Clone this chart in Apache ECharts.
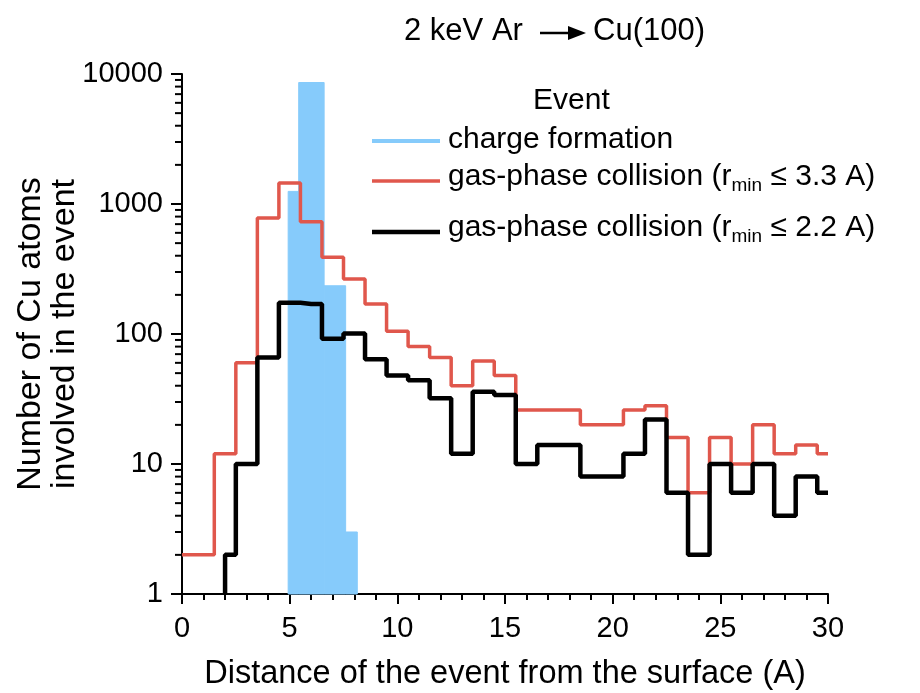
<!DOCTYPE html>
<html>
<head>
<meta charset="utf-8">
<script src="https://cdn.jsdelivr.net/npm/echarts@6/dist/echarts.min.js"></script>
<style>
  html, body { margin: 0; padding: 0; background: #fff; }
  #chart { width: 920px; height: 693px; }
</style>
</head>
<body>
<div id="chart"></div>
<script>
// Distance bins (A) for the two gas-phase collision histograms
const distanceR33 = [0,1,2,3,4,5,6,7,8,9,10,11,12,13,14,15,16,17,18,19,20,21,22,23,24,25,26,27,28,29,30];
const countsR33   = [2,2,12,60,780,1450,730,390,265,170,105,80,66,40,62,48,26,26,26,20,20,26,28,16,6,16,10,20,12,14,12];

const distanceR22 = [2,3,4,5,6,7,8,9,10,11,12,13,14,15,16,17,18,19,20,21,22,23,24,25,26,27,28,29,30];
const countsR22   = [2,10,66,174,170,92,101,64,48,44,32,12,36,34,10,14,14,8,8,12,22,6,2,10,6,10,4,8,6];

// Charge formation histogram: bin edges (from / to) and counts
const chargeFrom   = [4.93, 5.42, 6.6, 7.6];
const chargeTo     = [5.42, 6.6, 7.6, 8.14];
const chargeCounts = [1250, 8600, 235, 3];

// Axis ranges and tick labels
const xTicks = [0, 5, 10, 15, 20, 25, 30];
const yTicks = [1, 10, 100, 1000, 10000];

const FONT = '"Liberation Sans", Arial, sans-serif';
const RED = '#E0574C';
const BLUE = '#86CBFB';

// minor ticks of the log axis: 2..9 in every decade
const yMinor = [];
for (let d = 0; d < yTicks.length - 1; d++) {
  for (let k = 2; k <= 9; k++) yMinor.push(yTicks[d] * k);
}

const chart = echarts.init(document.getElementById('chart'), null, { renderer: 'canvas' });

const r33Data = distanceR33.map((x, i) => [x, countsR33[i]]);
// the r <= 2.2 A curve rises from the axis floor at its first bin
const r22Data = [[distanceR22[0], yTicks[0]]].concat(distanceR22.map((x, i) => [x, countsR22[i]]));
const chargeData = chargeCounts.map((c, i) => [chargeFrom[i], chargeTo[i], c]);

const subRich = {
  n: { fontSize: 30, fontFamily: FONT, lineHeight: 36, fill: '#000' },
  s: { fontSize: 19, fontFamily: FONT, lineHeight: 2, verticalAlign: 'bottom', fill: '#000' }
};

const option = {
  animation: false,
  backgroundColor: '#fff',
  textStyle: { fontFamily: FONT },
  grid: { left: 182, right: 92, top: 74, bottom: 99, containLabel: false, outerBoundsMode: 'none' },
  xAxis: {
    type: 'value',
    min: xTicks[0],
    max: xTicks[xTicks.length - 1],
    interval: 5,
    name: 'Distance of the event from the surface (A)',
    nameLocation: 'middle',
    nameGap: 64,
    nameMoveOverlap: false,
    nameTextStyle: { fontSize: 32.5, color: '#000', fontFamily: FONT },
    axisLine: { show: true, lineStyle: { color: '#000', width: 2 } },
    axisTick: { show: true, length: 10, lineStyle: { color: '#000', width: 2 } },
    minorTick: { show: true, splitNumber: 5, length: 6, lineStyle: { color: '#000', width: 2 } },
    splitLine: { show: false },
    minorSplitLine: { show: false },
    axisLabel: { fontSize: 29, color: '#000', margin: 20, fontFamily: FONT }
  },
  yAxis: {
    type: 'log',
    logBase: 10,
    min: yTicks[0],
    max: yTicks[yTicks.length - 1],
    name: 'Number of Cu atoms\ninvolved in the event',
    nameLocation: 'middle',
    nameGap: 100,
    nameMoveOverlap: false,
    nameTextStyle: { fontSize: 34, color: '#000', fontFamily: FONT, lineHeight: 34 },
    axisLine: { show: true, lineStyle: { color: '#000', width: 2 } },
    axisTick: { show: true, length: 11, lineStyle: { color: '#000', width: 2 } },
    splitLine: { show: false },
    axisLabel: {
      fontSize: 29, color: '#000', margin: 19, fontFamily: FONT,
      formatter: v => String(Math.round(v))
    }
  },
  series: [
    {
      name: 'charge formation',
      type: 'custom',
      data: chargeData,
      encode: { x: [0, 1], y: 2 },
      z: 1,
      renderItem: function (params, api) {
        const p1 = api.coord([api.value(0), api.value(2)]);
        const p2 = api.coord([api.value(1), yTicks[0]]);
        return {
          type: 'rect',
          shape: { x: p1[0], y: p1[1], width: p2[0] - p1[0], height: p2[1] - p1[1] },
          style: { fill: BLUE, stroke: BLUE, lineWidth: 1 }
        };
      }
    },
    {
      name: 'gas-phase collision (r_min <= 3.3 A)',
      type: 'line',
      step: 'middle',
      symbol: 'none',
      data: r33Data,
      z: 2,
      lineStyle: { color: RED, width: 3.5 }
    },
    {
      name: 'gas-phase collision (r_min <= 2.2 A)',
      type: 'line',
      step: 'middle',
      symbol: 'none',
      data: r22Data,
      z: 3,
      lineStyle: { color: '#000', width: 4.5 }
    },
    {
      name: 'yMinorTicks',
      type: 'custom',
      data: yMinor.map(v => [xTicks[0], v]),
      encode: { x: 0, y: 1 },
      z: 4,
      silent: true,
      clip: false,
      renderItem: function (params, api) {
        const p = api.coord([api.value(0), api.value(1)]);
        return {
          type: 'line',
          shape: { x1: p[0] - 7, y1: p[1], x2: p[0], y2: p[1] },
          style: { stroke: '#000', lineWidth: 2 }
        };
      }
    }
  ],
  graphic: [
    // title: 2 keV Ar -> Cu(100)
    { type: 'text', left: 404, top: 16, style: { text: '2 keV Ar', font: '31px ' + FONT, fill: '#000' } },
    { type: 'line', shape: { x1: 540, y1: 33, x2: 572, y2: 33 }, style: { stroke: '#000', lineWidth: 2.5 } },
    { type: 'polygon', shape: { points: [[568, 26], [586, 33], [568, 40]] }, style: { fill: '#000' } },
    { type: 'text', left: 593, top: 16, style: { text: 'Cu(100)', font: '31px ' + FONT, fill: '#000' } },

    // legend
    { type: 'text', left: 533, top: 86, style: { text: 'Event', font: '30px ' + FONT, fill: '#000' } },
    { type: 'line', shape: { x1: 372, y1: 141, x2: 440, y2: 141 }, style: { stroke: BLUE, lineWidth: 4 } },
    { type: 'text', left: 448, top: 125, style: { text: 'charge formation', font: '30px ' + FONT, fill: '#000' } },
    { type: 'line', shape: { x1: 372, y1: 181, x2: 440, y2: 181 }, style: { stroke: RED, lineWidth: 3.5 } },
    {
      type: 'text', left: 448, top: 162,
      style: { text: '{n|gas-phase collision (r}{s|min}{n| \u2264 3.3 A)}', fill: '#000', rich: subRich }
    },
    { type: 'line', shape: { x1: 372, y1: 232, x2: 440, y2: 232 }, style: { stroke: '#000', lineWidth: 4.5 } },
    {
      type: 'text', left: 448, top: 213,
      style: { text: '{n|gas-phase collision (r}{s|min}{n| \u2264 2.2 A)}', fill: '#000', rich: subRich }
    }
  ]
};

chart.setOption(option);
</script>
</body>
</html>
